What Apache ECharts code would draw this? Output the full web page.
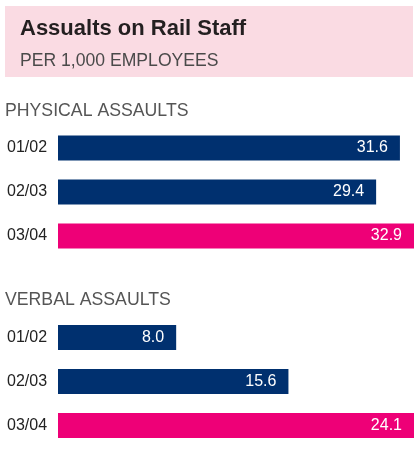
<!DOCTYPE html>
<html>
<head>
<meta charset="utf-8">
<script src="https://cdn.jsdelivr.net/npm/echarts@6/dist/echarts.min.js"></script>
<style>
  html, body { margin: 0; padding: 0; background: #ffffff; }
  #chart { width: 414px; height: 467px; }
</style>
</head>
<body>
<div id="chart"></div>
<script>
// Rail staff assault rates per 1,000 employees, by financial year
const years = ['01/02', '02/03', '03/04'];
const physicalValues = [31.6, 29.4, 32.9];
const verbalValues = [8.0, 15.6, 24.1];
const sectionTitles = ['PHYSICAL ASSAULTS', 'VERBAL ASSAULTS'];

const NAVY = '#00306f';
const PINK = '#ee0077';
const FONT = '"Liberation Sans", Arial, sans-serif';

// latest year is highlighted in pink
function barData(values) {
  return values.map((v, i) => ({
    value: v,
    itemStyle: { color: i === values.length - 1 ? PINK : NAVY }
  }));
}

const panels = [
  { top: 126, values: physicalValues },
  { top: 315.5, values: verbalValues }
];

const chart = echarts.init(document.getElementById('chart'), null, { renderer: 'canvas' });

chart.setOption({
  animation: false,
  backgroundColor: '#ffffff',
  graphic: [{
    type: 'rect',
    left: 5, top: 6,
    shape: { width: 408, height: 71 },
    style: { fill: '#fadbe3' },
    silent: true
  }],
  title: [
    {
      text: 'Assualts on Rail Staff',
      left: 20, top: 18,
      padding: 0,
      textStyle: { fontFamily: FONT, fontSize: 22, fontWeight: 'bold', color: '#231f20' }
    },
    {
      text: 'PER 1,000 EMPLOYEES',
      left: 20, top: 52,
      padding: 0,
      textStyle: { fontFamily: FONT, fontSize: 17.6, fontWeight: 'normal', color: '#4a4a4a' }
    },
    {
      text: sectionTitles[0],
      left: 5, top: 102.5,
      padding: 0,
      textStyle: { fontFamily: FONT, fontSize: 17.7, fontWeight: 'normal', color: '#555555' }
    },
    {
      text: sectionTitles[1],
      left: 5, top: 291.5,
      padding: 0,
      textStyle: { fontFamily: FONT, fontSize: 17.7, fontWeight: 'normal', color: '#555555' }
    }
  ],
  grid: panels.map(p => ({ left: 58, right: 0, top: p.top, height: 132 })),
  xAxis: panels.map((p, i) => ({
    type: 'value',
    gridIndex: i,
    min: 0,
    max: 'dataMax',
    show: false
  })),
  yAxis: panels.map((p, i) => ({
    type: 'category',
    gridIndex: i,
    data: years,
    inverse: true,
    axisLine: { show: false },
    axisTick: { show: false },
    splitLine: { show: false },
    axisLabel: {
      align: 'left',
      margin: 51,
      fontFamily: FONT,
      fontSize: 16,
      color: '#222222'
    }
  })),
  series: panels.map((p, i) => ({
    type: 'bar',
    xAxisIndex: i,
    yAxisIndex: i,
    data: barData(p.values),
    barWidth: 25,
    silent: true,
    label: {
      show: true,
      position: 'insideRight',
      distance: 12,
      fontFamily: FONT,
      fontSize: 16,
      color: '#ffffff',
      formatter: params => params.value.toFixed(1)
    }
  }))
});
</script>
</body>
</html>
